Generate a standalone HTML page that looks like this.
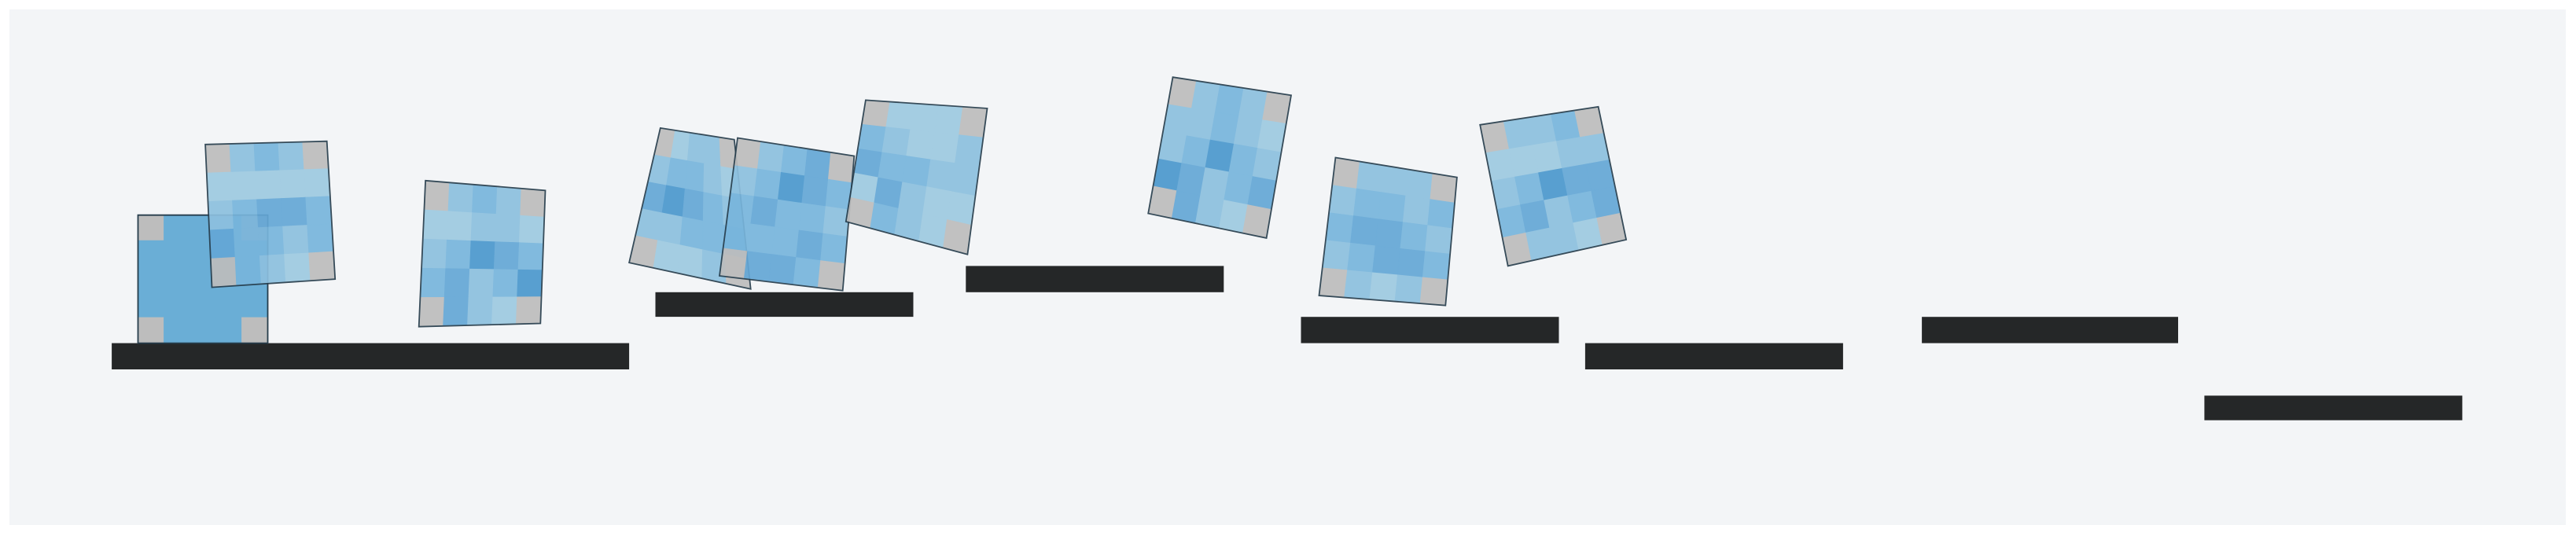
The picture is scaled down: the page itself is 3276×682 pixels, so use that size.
<!DOCTYPE html>
<html><head><meta charset="utf-8"><style>
html,body{margin:0;padding:0;background:#fff;width:3276px;height:682px;overflow:hidden}
</style></head><body>
<svg id="scene" width="3276" height="682" viewBox="0 0 3276 682" xmlns="http://www.w3.org/2000/svg">
<rect x="12" y="12" width="3251" height="656" fill="#f3f5f7"/>
<g id="platforms"></g>
<g id="bodies"></g>
</svg>
<script>
const S = 2.089;
const platX0 = [68, 399, 588, 792, 965, 1170, 1342];
const platX1 = [383, 556, 745, 949, 1122, 1326, 1499];
const platY0 = [209, 178, 162, 193, 209, 193, 241];
const platH = [16, 15, 16, 16, 16, 16, 15];
const bodyCorners = [
 [[84,131],[163,131],[163,209],[84,209]],
 [[125,88],[199,86],[204,170],[129,175]],
 [[259,110],[332,116],[329,197],[255,199]],
 [[402,78],[447,85],[457,176],[383,160]],
 [[449,84],[520,95],[513,177],[438,168]],
 [[527,61],[601,66],[589,155],[515,135]],
 [[714,47],[786,58],[771,145],[699,130]],
 [[813,96],[887,108],[880,186],[803,180]],
 [[901,76],[973,65],[990,146],[918,162]]
];
const shadePal = ['#9ecae1','#8dc0df','#78b5dc','#64a7d6','#4b98cd','#6aaed6'];
const bodyShades = [
 [5,5,5,5,5, 5,5,5,5,5, 5,5,5,5,5, 5,5,5,5,5, 5,5,5,5,5],
 [0,1,2,1,0, 0,0,0,0,0, 1,2,3,3,2, 3,2,2,1,2, 0,2,1,0,0],
 [0,1,2,1,0, 0,0,1,1,0, 1,2,4,3,2, 2,3,1,2,4, 0,3,1,0,0],
 [0,0,1,1,0, 1,2,2,1,0, 3,4,3,2,1, 1,1,2,2,2, 0,0,0,1,0],
 [0,1,2,3,0, 1,2,4,3,2, 2,3,2,2,1, 2,2,2,3,2, 0,3,3,2,0],
 [0,0,0,0,0, 2,1,0,0,1, 3,2,2,1,1, 0,3,1,0,0, 0,2,1,0,0],
 [0,1,2,1,0, 1,1,2,1,0, 1,2,4,2,1, 4,3,1,2,3, 0,3,1,0,0],
 [0,1,1,1,0, 1,2,2,1,2, 2,3,3,2,1, 1,2,3,3,2, 0,1,0,1,0],
 [0,1,1,2,0, 0,0,0,1,1, 1,2,4,3,3, 2,3,1,2,3, 0,1,1,0,0]
];
const NS='http://www.w3.org/2000/svg';
const pg=document.getElementById('platforms');
platX0.forEach((x,i)=>{
 const r=document.createElementNS(NS,'rect');
 
 
 r.setAttribute('x',(x*S).toFixed(1));r.setAttribute('y',(platY0[i]*S).toFixed(1));
 r.setAttribute('width',((platX1[i]-x)*S).toFixed(1));r.setAttribute('height',(platH[i]*S).toFixed(1));
 r.setAttribute('fill','#252728');
 pg.appendChild(r);
});
const bg=document.getElementById('bodies');
function bil(c,u,v){
 const x=(1-u)*(1-v)*c[0][0]+u*(1-v)*c[1][0]+u*v*c[2][0]+(1-u)*v*c[3][0];
 const y=(1-u)*(1-v)*c[0][1]+u*(1-v)*c[1][1]+u*v*c[2][1]+(1-u)*v*c[3][1];
 return [x*S,y*S];
}
bodyCorners.forEach((c,b)=>{
 const g=document.createElementNS(NS,'g');
 
 
 g.setAttribute('opacity', b===0?'1':'0.92');
 for(let j=0;j<5;j++)for(let i=0;i<5;i++){
  const p=[bil(c,i/5,j/5),bil(c,(i+1)/5,j/5),bil(c,(i+1)/5,(j+1)/5),bil(c,i/5,(j+1)/5)];
  const corner=(i===0||i===4)&&(j===0||j===4);
  const poly=document.createElementNS(NS,'polygon');
  
  
  poly.setAttribute('points',p.map(q=>q[0].toFixed(1)+','+q[1].toFixed(1)).join(' '));
  const col=corner?'#bdbdbd':shadePal[bodyShades[b][j*5+i]];
  poly.setAttribute('fill',col);poly.setAttribute('stroke',col);poly.setAttribute('stroke-width','0.8');
  g.appendChild(poly);
 }
 const o=document.createElementNS(NS,'polygon');
 
 
 o.setAttribute('points',c.map(q=>(q[0]*S).toFixed(1)+','+(q[1]*S).toFixed(1)).join(' '));
 o.setAttribute('fill','none');o.setAttribute('stroke','#263d4c');o.setAttribute('stroke-width','1.8');
 g.appendChild(o);
 bg.appendChild(g);
});
</script>
</body></html>
